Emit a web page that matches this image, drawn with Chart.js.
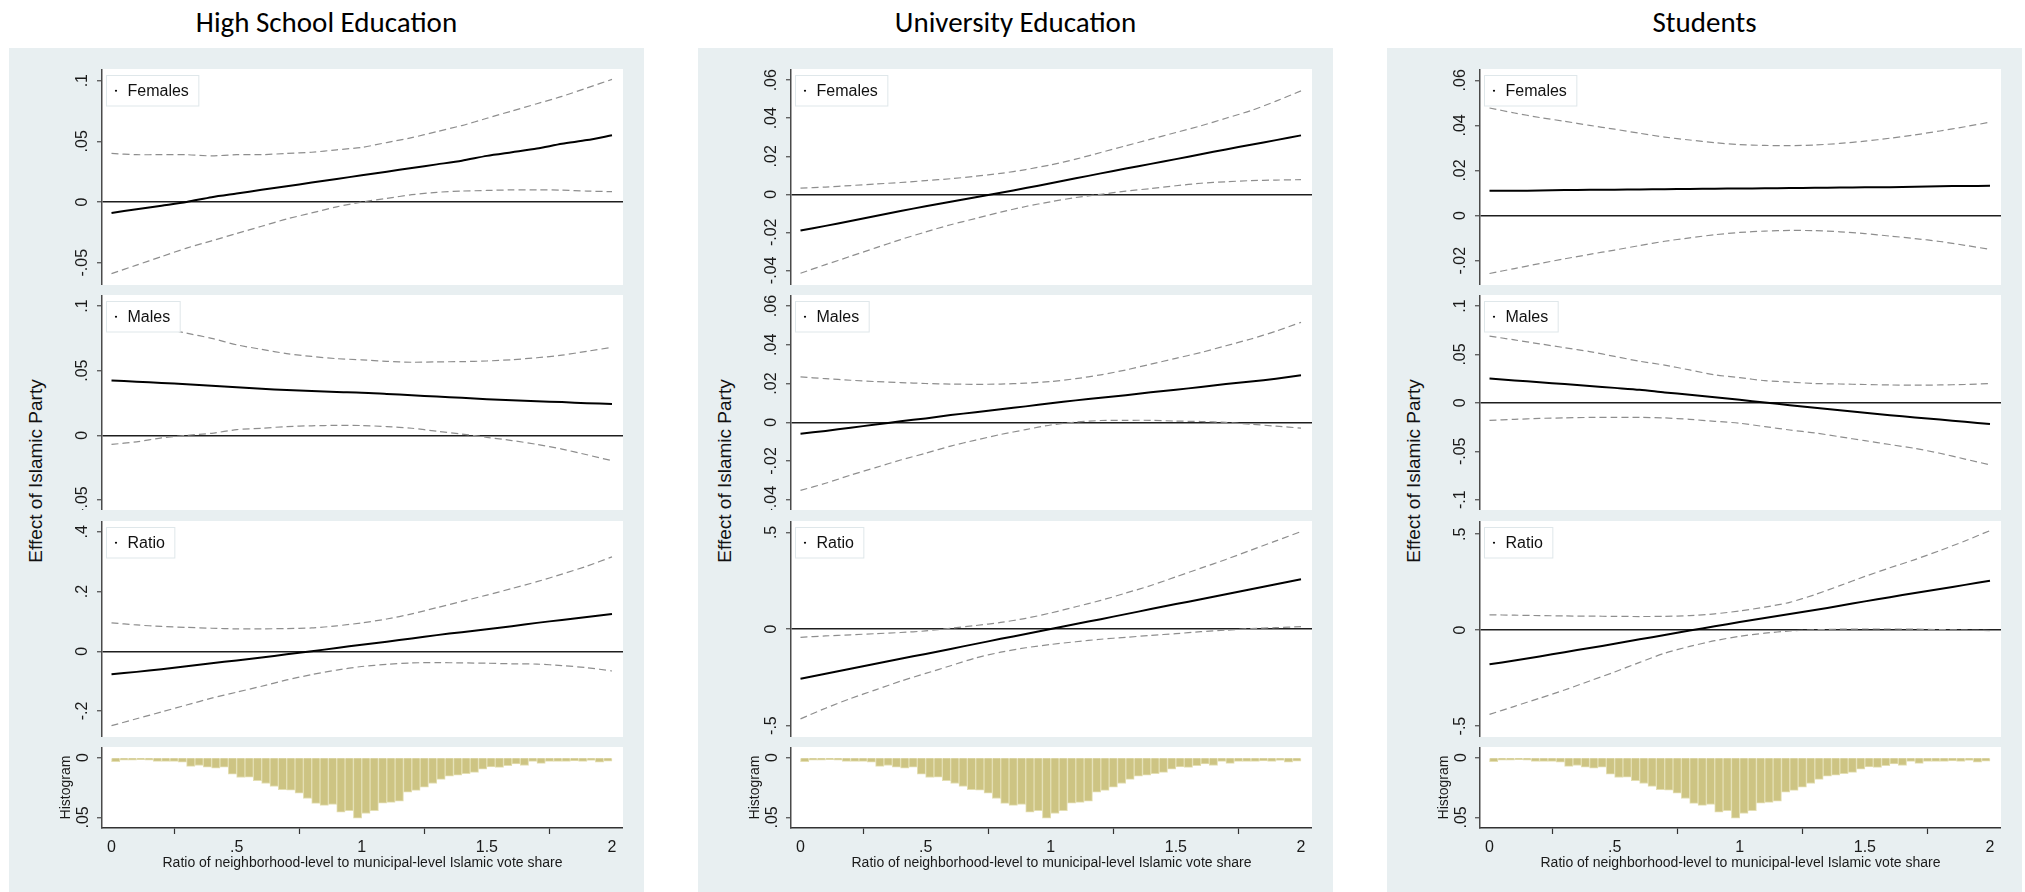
<!DOCTYPE html>
<html>
<head>
<meta charset="utf-8">
<title>Effect of Islamic Party by neighborhood vote-share ratio</title>
<script src="https://cdn.jsdelivr.net/npm/chart.js@4.4.1/dist/chart.umd.min.js"></script>
<style>
  html, body { margin: 0; padding: 0; background: #fff; }
  #page { position: relative; width: 2025px; height: 892px; overflow: hidden; background: #fff;
          font-family: 'Liberation Sans', Arial, sans-serif; }
  .col-bg { position: absolute; top: 48px; height: 844px; width: 635px; background: #e8eff1; }
  .col-title { position: absolute; top: 5px; width: 635px; text-align: center; color: #000;
               font-family: Carlito, Lato, sans-serif; font-size: 29px; line-height: 34px; }
  .ytitle { position: absolute; font-size: 19px; color: #111; white-space: nowrap;
            transform: translate(-50%, -50%) rotate(-90deg); }
  .panel { position: absolute; }
  .panel canvas { display: block; }
</style>
</head>
<body>
<div id="page"></div>
<script>
// ---- evaluation points of the marginal-effect curves ----
const xGrid = [0, 0.1, 0.2, 0.3, 0.4, 0.5, 0.6, 0.7, 0.8, 0.9, 1.0,
               1.1, 1.2, 1.3, 1.4, 1.5, 1.6, 1.7, 1.8, 1.9, 2.0];

const columnTitles = ['High School Education', 'University Education', 'Students'];
const panelLabels = ['Females', 'Males', 'Ratio'];
const yTitle = 'Effect of Islamic Party';
const histTitle = 'Histogram';
const xTitle = 'Ratio of neighborhood-level to municipal-level Islamic vote share';
const xTicks = [0, 0.5, 1, 1.5, 2];

// ---- High School Education ----
const hsFemEst = [-0.009, -0.006, -0.003, 0.000, 0.004, 0.007, 0.010, 0.013, 0.016, 0.019, 0.022,
                  0.025, 0.028, 0.031, 0.034, 0.038, 0.041, 0.044, 0.048, 0.051, 0.055];
const hsFemHi  = [0.040, 0.039, 0.039, 0.039, 0.038, 0.039, 0.039, 0.040, 0.041, 0.043, 0.045,
                  0.049, 0.053, 0.058, 0.063, 0.069, 0.075, 0.081, 0.087, 0.094, 0.101];
const hsFemLo  = [-0.059, -0.052, -0.045, -0.038, -0.032, -0.026, -0.020, -0.014, -0.009, -0.004, 0.000,
                  0.003, 0.006, 0.008, 0.009, 0.0095, 0.010, 0.010, 0.0098, 0.009, 0.0085];
const hsFemTicks = [-0.05, 0, 0.05, 0.1];

const hsMalEst = [0.0425, 0.0415, 0.0405, 0.0395, 0.0383, 0.0372, 0.036, 0.035, 0.0342, 0.0335, 0.033,
                  0.032, 0.031, 0.030, 0.029, 0.028, 0.0272, 0.0264, 0.0257, 0.0249, 0.0242];
const hsMalHi  = [0.092, 0.088, 0.083, 0.079, 0.075, 0.070, 0.0665, 0.0632, 0.061, 0.0593, 0.0584,
                  0.0572, 0.0565, 0.0568, 0.057, 0.0575, 0.0585, 0.060, 0.062, 0.065, 0.068];
const hsMalLo  = [-0.007, -0.005, -0.002, 0.000, 0.0016, 0.0044, 0.0055, 0.0068, 0.0074, 0.0077, 0.0076,
                  0.0068, 0.0055, 0.0032, 0.001, -0.0015, -0.004, -0.007, -0.0106, -0.015, -0.0196];
const hsMalTicks = [-0.05, 0, 0.05, 0.1];

const hsRatEst = [-0.077, -0.069, -0.060, -0.050, -0.040, -0.031, -0.021, -0.010, 0.000, 0.011, 0.022,
                  0.032, 0.043, 0.054, 0.064, 0.074, 0.084, 0.095, 0.105, 0.115, 0.125];
const hsRatHi  = [0.095, 0.088, 0.083, 0.080, 0.077, 0.075, 0.075, 0.076, 0.078, 0.085, 0.095,
                  0.108, 0.125, 0.146, 0.167, 0.188, 0.210, 0.233, 0.258, 0.285, 0.316];
const hsRatLo  = [-0.249, -0.226, -0.203, -0.180, -0.157, -0.137, -0.117, -0.096, -0.078, -0.063, -0.051,
                  -0.044, -0.039, -0.038, -0.039, -0.040, -0.042, -0.043, -0.048, -0.055, -0.066];
const hsRatTicks = [-0.2, 0, 0.2, 0.4];

// ---- University Education ----
const uniFemEst = [-0.019, -0.0166, -0.014, -0.0114, -0.0088, -0.0063, -0.0039, -0.0016, 0.0008, 0.0033, 0.0058,
                   0.0084, 0.011, 0.0136, 0.016, 0.0185, 0.0211, 0.0236, 0.0261, 0.0285, 0.031];
const uniFemHi  = [0.0032, 0.0038, 0.0046, 0.0054, 0.0062, 0.0072, 0.0082, 0.0095, 0.011, 0.013, 0.0155,
                   0.0185, 0.022, 0.0255, 0.029, 0.0325, 0.036, 0.040, 0.044, 0.049, 0.0544];
const uniFemLo  = [-0.0415, -0.037, -0.0326, -0.0282, -0.0238, -0.0198, -0.016, -0.0127, -0.0094, -0.0064, -0.0039,
                   -0.0017, 0.000, 0.0017, 0.003, 0.0045, 0.0058, 0.0066, 0.0072, 0.0075, 0.0077];
const uniFemTicks = [-0.04, -0.02, 0, 0.02, 0.04, 0.06];

const uniMalEst = [-0.0059, -0.0045, -0.0028, -0.0012, 0.0005, 0.002, 0.0037, 0.0052, 0.0067, 0.0082, 0.0098,
                   0.0113, 0.0127, 0.014, 0.0155, 0.0168, 0.0182, 0.0197, 0.021, 0.0225, 0.0243];
const uniMalHi  = [0.0234, 0.0225, 0.0217, 0.021, 0.0205, 0.020, 0.0197, 0.0196, 0.0197, 0.0202, 0.021,
                   0.0225, 0.0245, 0.027, 0.030, 0.033, 0.036, 0.0395, 0.043, 0.047, 0.0516];
const uniMalLo  = [-0.0352, -0.0315, -0.0273, -0.0234, -0.0195, -0.016, -0.0123, -0.0092, -0.0063, -0.0038, -0.0014,
                   0.0001, 0.0009, 0.001, 0.001, 0.0006, 0.0004, -0.0001, -0.001, -0.002, -0.003];
const uniMalTicks = [-0.04, -0.02, 0, 0.02, 0.04, 0.06];

const uniRatEst = [-0.257, -0.232, -0.206, -0.180, -0.154, -0.129, -0.103, -0.077, -0.051, -0.026, 0.000,
                   0.026, 0.051, 0.077, 0.103, 0.129, 0.154, 0.180, 0.206, 0.232, 0.257];
const uniRatHi  = [-0.043, -0.036, -0.030, -0.024, -0.018, -0.010, 0.004, 0.018, 0.034, 0.055, 0.083,
                   0.115, 0.148, 0.186, 0.225, 0.270, 0.315, 0.360, 0.408, 0.456, 0.504];
const uniRatLo  = [-0.465, -0.41, -0.36, -0.315, -0.27, -0.23, -0.19, -0.15, -0.12, -0.097, -0.08,
                   -0.066, -0.053, -0.043, -0.033, -0.024, -0.014, -0.006, 0.002, 0.007, 0.012];
const uniRatTicks = [-0.5, 0, 0.5];

// ---- Students ----
const stuFemEst = [0.0110, 0.0110, 0.0111, 0.0113, 0.0114, 0.0115, 0.0116, 0.0117, 0.0118, 0.0119, 0.0120,
                   0.0121, 0.0122, 0.0123, 0.0124, 0.0125, 0.0126, 0.0128, 0.0130, 0.0131, 0.0132];
const stuFemHi  = [0.0477, 0.0455, 0.0435, 0.0418, 0.040, 0.0383, 0.0365, 0.0348, 0.0335, 0.0323, 0.0315,
                   0.0311, 0.031, 0.0313, 0.032, 0.033, 0.0343, 0.0358, 0.0375, 0.0394, 0.0414];
const stuFemLo  = [-0.0257, -0.0235, -0.0213, -0.0192, -0.0172, -0.0153, -0.0133, -0.0114, -0.0099, -0.0085, -0.0075,
                   -0.0069, -0.0066, -0.0067, -0.0072, -0.008, -0.0091, -0.0102, -0.0115, -0.0132, -0.015];
const stuFemTicks = [-0.02, 0, 0.02, 0.04, 0.06];

const stuMalEst = [0.0251, 0.0232, 0.0213, 0.0194, 0.0175, 0.0155, 0.0135, 0.0108, 0.0084, 0.0058, 0.0032,
                   0.0004, -0.0024, -0.005, -0.0077, -0.0103, -0.0127, -0.015, -0.0172, -0.0195, -0.0218];
const stuMalHi  = [0.069, 0.065, 0.061, 0.057, 0.053, 0.048, 0.043, 0.039, 0.034, 0.029, 0.026,
                   0.023, 0.0215, 0.020, 0.0195, 0.019, 0.0185, 0.0183, 0.0185, 0.019, 0.020];
const stuMalLo  = [-0.018, -0.017, -0.016, -0.0155, -0.015, -0.015, -0.015, -0.0155, -0.017, -0.019, -0.021,
                   -0.0245, -0.028, -0.031, -0.035, -0.039, -0.043, -0.047, -0.052, -0.058, -0.064];
const stuMalTicks = [-0.1, -0.05, 0, 0.05, 0.1];

const stuRatEst = [-0.178, -0.158, -0.137, -0.115, -0.093, -0.071, -0.048, -0.025, -0.002, 0.020, 0.042,
                   0.063, 0.084, 0.105, 0.127, 0.150, 0.172, 0.194, 0.215, 0.236, 0.258];
const stuRatHi  = [0.080, 0.078, 0.076, 0.074, 0.073, 0.072, 0.071, 0.072, 0.076, 0.085, 0.100,
                   0.120, 0.145, 0.185, 0.232, 0.280, 0.325, 0.368, 0.415, 0.465, 0.519];
const stuRatLo  = [-0.439, -0.397, -0.355, -0.312, -0.265, -0.218, -0.168, -0.120, -0.085, -0.055, -0.032,
                   -0.016, -0.004, 0.002, 0.005, 0.006, 0.006, 0.005, 0.003, 0.000, -0.002];
const stuRatTicks = [-0.5, 0, 0.5];

// ---- distribution of the ratio (share of neighborhoods per bin, bin width 1/30) ----
const histBins = [0.0167, 0.05, 0.0833, 0.1167, 0.15, 0.1833, 0.2167, 0.25, 0.2833, 0.3167,
                  0.35, 0.3833, 0.4167, 0.45, 0.4833, 0.5167, 0.55, 0.5833, 0.6167, 0.65,
                  0.6833, 0.7167, 0.75, 0.7833, 0.8167, 0.85, 0.8833, 0.9167, 0.95, 0.9833,
                  1.0167, 1.05, 1.0833, 1.1167, 1.15, 1.1833, 1.2167, 1.25, 1.2833, 1.3167,
                  1.35, 1.3833, 1.4167, 1.45, 1.4833, 1.5167, 1.55, 1.5833, 1.6167, 1.65,
                  1.6833, 1.7167, 1.75, 1.7833, 1.8167, 1.85, 1.8833, 1.9167, 1.95, 1.9833];
const histShare = [0.0036, 0.0022, 0.0022, 0.0019, 0.0022, 0.0033, 0.0033, 0.0033, 0.0039, 0.0075,
                   0.0067, 0.0081, 0.0089, 0.0081, 0.0139, 0.0167, 0.0164, 0.0194, 0.0217, 0.0242,
                   0.0269, 0.0272, 0.0297, 0.0342, 0.0383, 0.0400, 0.0392, 0.0456, 0.0444, 0.0506,
                   0.0467, 0.0444, 0.0381, 0.0375, 0.0364, 0.0289, 0.0275, 0.0247, 0.0217, 0.0183,
                   0.0156, 0.0147, 0.0136, 0.0125, 0.0097, 0.0078, 0.0083, 0.0069, 0.0053, 0.0067,
                   0.0033, 0.0050, 0.0033, 0.0033, 0.0033, 0.0028, 0.0033, 0.0025, 0.0039, 0.0031];
const histTicks = [0, 0.05];

// ---- page geometry ----
const COL_LEFT = [9, 698, 1387];
const PLOT_OFF = 93;      // plot region starts this far into each column
const PLOT_W = 521;
const AXIS_W = 60;        // room kept for the y axis of every panel
const ROWS = [{ top: 69, bottom: 285 }, { top: 295, bottom: 510 }, { top: 521, bottom: 737 }];
const HIST = { top: 747, bottom: 828 };
const XAXIS_H = 46;
const X_MIN = -0.038, X_MAX = 2.044;
const FONT = "'Liberation Sans', Arial, sans-serif";

const columns = [
  { title: columnTitles[0], panels: [
    { label: panelLabels[0], est: hsFemEst, lo: hsFemLo, hi: hsFemHi, ticks: hsFemTicks, min: -0.0684, max: 0.1096 },
    { label: panelLabels[1], est: hsMalEst, lo: hsMalLo, hi: hsMalHi, ticks: hsMalTicks, min: -0.0577, max: 0.1085 },
    { label: panelLabels[2], est: hsRatEst, lo: hsRatLo, hi: hsRatHi, ticks: hsRatTicks, min: -0.287, max: 0.436 } ] },
  { title: columnTitles[1], panels: [
    { label: panelLabels[0], est: uniFemEst, lo: uniFemLo, hi: uniFemHi, ticks: uniFemTicks, min: -0.0477, max: 0.0659 },
    { label: panelLabels[1], est: uniMalEst, lo: uniMalLo, hi: uniMalHi, ticks: uniMalTicks, min: -0.0453, max: 0.0657 },
    { label: panelLabels[2], est: uniRatEst, lo: uniRatLo, hi: uniRatHi, ticks: uniRatTicks, min: -0.559, max: 0.559 } ] },
  { title: columnTitles[2], panels: [
    { label: panelLabels[0], est: stuFemEst, lo: stuFemLo, hi: stuFemHi, ticks: stuFemTicks, min: -0.0308, max: 0.065 },
    { label: panelLabels[1], est: stuMalEst, lo: stuMalLo, hi: stuMalHi, ticks: stuMalTicks, min: -0.1106, max: 0.1114 },
    { label: panelLabels[2], est: stuRatEst, lo: stuRatLo, hi: stuRatHi, ticks: stuRatTicks, min: -0.557, max: 0.569 } ] }
];

// Stata-style number labels: ".05", "-.2", "1.5"
function fmt(v) {
  const s = String(Math.round(v * 10000) / 10000);
  return s.replace(/^(-?)0\./, '$1.');
}

const measureCtx = document.createElement('canvas').getContext('2d');
function widestLabel(values, size) {
  measureCtx.font = size + 'px ' + FONT;
  return Math.max(...values.map(v => measureCtx.measureText(fmt(v)).width));
}

// white plot region
const plotBg = {
  id: 'plotBg',
  beforeDraw(chart) {
    const { ctx, chartArea: a } = chart;
    ctx.save();
    ctx.fillStyle = '#ffffff';
    ctx.fillRect(a.left, a.top, a.right - a.left, a.bottom - a.top);
    ctx.restore();
  }
};

// small boxed key in the upper-left corner of each panel
const panelKey = {
  id: 'panelKey',
  afterDraw(chart, args, opts) {
    if (!opts || !opts.text) return;
    const { ctx, chartArea: a } = chart;
    ctx.save();
    ctx.font = '16px ' + FONT;
    const tw = ctx.measureText(opts.text).width;
    const x = a.left + 4.5, y = a.top + 6.5, w = tw + 31, h = 30.5;
    ctx.fillStyle = '#ffffff';
    ctx.fillRect(x, y, w, h);
    ctx.strokeStyle = '#dfe7ea';
    ctx.lineWidth = 1;
    ctx.strokeRect(x, y, w, h);
    ctx.fillStyle = '#000';
    ctx.beginPath();
    ctx.arc(x + 9.5, y + h / 2, 1.1, 0, Math.PI * 2);
    ctx.fill();
    ctx.fillStyle = '#111';
    ctx.textBaseline = 'middle';
    ctx.fillText(opts.text, x + 21, y + h / 2 + 1);
    ctx.restore();
  }
};

function yAxis(ticks, min, max, opts) {
  const labelGap = opts.labelGap;
  const wid = widestLabel(ticks, 16);
  return {
    type: 'linear', min, max, reverse: !!opts.reverse,
    afterBuildTicks: ax => { ax.ticks = ticks.map(v => ({ value: v })); },
    afterFit: ax => { ax.width = AXIS_W; ax.paddingTop = 0; ax.paddingBottom = 0; },
    grid: {
      drawOnChartArea: !!opts.zeroLine,
      color: c => (c.tick && c.tick.value === 0) ? '#1e1e1e' : 'rgba(0,0,0,0)',
      lineWidth: 1.5,
      drawTicks: true, tickLength: 5, tickColor: '#4a4a4a', tickWidth: 1.2
    },
    border: { display: true, color: '#4a4a4a', width: 1.5 },
    ticks: {
      autoSkip: false, minRotation: 90, maxRotation: 90, crossAlign: 'center',
      padding: labelGap - 5 - wid / 2,
      color: '#1a1a1a', font: { family: FONT, size: 16 },
      callback: v => fmt(v)
    },
    title: opts.title || { display: false }
  };
}

const page = document.getElementById('page');

function addPanel(left, top, width, height) {
  const div = document.createElement('div');
  div.className = 'panel';
  div.style.left = left + 'px';
  div.style.top = top + 'px';
  div.style.width = width + 'px';
  div.style.height = height + 'px';
  const cv = document.createElement('canvas');
  cv.width = width; cv.height = height;
  div.appendChild(cv);
  page.appendChild(div);
  return cv;
}

const pts = arr => xGrid.map((x, i) => ({ x, y: arr[i] }));
const ciStyle = { borderColor: '#8e8e8e', borderWidth: 1.2, borderDash: [7, 4], pointRadius: 0, tension: 0.25, fill: false };

columns.forEach((col, c) => {
  const colLeft = COL_LEFT[c];

  const bg = document.createElement('div');
  bg.className = 'col-bg';
  bg.style.left = colLeft + 'px';
  page.appendChild(bg);

  const t = document.createElement('div');
  t.className = 'col-title';
  t.style.left = colLeft + 'px';
  t.textContent = col.title;
  page.appendChild(t);

  const yt = document.createElement('div');
  yt.className = 'ytitle';
  yt.style.left = (colLeft + 27) + 'px';
  yt.style.top = '471px';
  yt.textContent = yTitle;
  page.appendChild(yt);

  const panelLeft = colLeft + PLOT_OFF - AXIS_W;

  col.panels.forEach((p, r) => {
    const row = ROWS[r];
    const cv = addPanel(panelLeft, row.top, AXIS_W + PLOT_W, row.bottom - row.top);
    new Chart(cv, {
      type: 'line',
      data: { datasets: [
        Object.assign({ data: pts(p.hi) }, ciStyle),
        Object.assign({ data: pts(p.lo) }, ciStyle),
        { data: pts(p.est), borderColor: '#000', borderWidth: 2, pointRadius: 0, tension: 0.25, fill: false }
      ] },
      options: {
        responsive: false, animation: false, devicePixelRatio: 1, events: [],
        layout: { padding: 0 },
        plugins: { legend: { display: false }, tooltip: { enabled: false }, panelKey: { text: p.label } },
        scales: {
          x: { type: 'linear', min: X_MIN, max: X_MAX, display: false },
          y: yAxis(p.ticks, p.min, p.max, { labelGap: 19.4, zeroLine: true })
        }
      },
      plugins: [plotBg, panelKey]
    });
  });

  // histogram of the ratio under each column
  const hv = addPanel(panelLeft, HIST.top, AXIS_W + PLOT_W, HIST.bottom - HIST.top + XAXIS_H);
  new Chart(hv, {
    type: 'bar',
    data: { datasets: [{
      data: histBins.map((x, i) => ({ x, y: histShare[i] })),
      backgroundColor: '#cdc483', borderColor: '#e4dfb3', borderWidth: 1,
      barPercentage: 1, categoryPercentage: 1
    }] },
    options: {
      responsive: false, animation: false, devicePixelRatio: 1, events: [],
      layout: { padding: 0 },
      plugins: { legend: { display: false }, tooltip: { enabled: false } },
      scales: {
        x: {
          type: 'linear', min: X_MIN, max: X_MAX, offset: false,
          afterBuildTicks: ax => { ax.ticks = xTicks.map(v => ({ value: v })); },
          afterFit: ax => { ax.height = XAXIS_H; ax.paddingLeft = 0; ax.paddingRight = 0; },
          grid: { drawOnChartArea: false, drawTicks: true, tickLength: 6, tickColor: '#333', tickWidth: 1.2 },
          border: { display: true, color: '#333', width: 1.5 },
          ticks: { autoSkip: false, maxRotation: 0, minRotation: 0, padding: 4, color: '#1a1a1a',
                   font: { family: FONT, size: 16 }, callback: v => fmt(v) },
          title: { display: true, text: xTitle, color: '#1a1a1a', font: { family: FONT, size: 14 },
                   padding: { top: 0, bottom: 2.2 } }
        },
        y: yAxis(histTicks, -0.0087, 0.0588, {
          labelGap: 18, zeroLine: false, reverse: true,
          title: { display: true, text: histTitle, color: '#1a1a1a', font: { family: FONT, size: 14 },
                   padding: { top: 15.6, bottom: 0 } }
        })
      }
    },
    plugins: [plotBg]
  });
});
</script>
</body>
</html>
